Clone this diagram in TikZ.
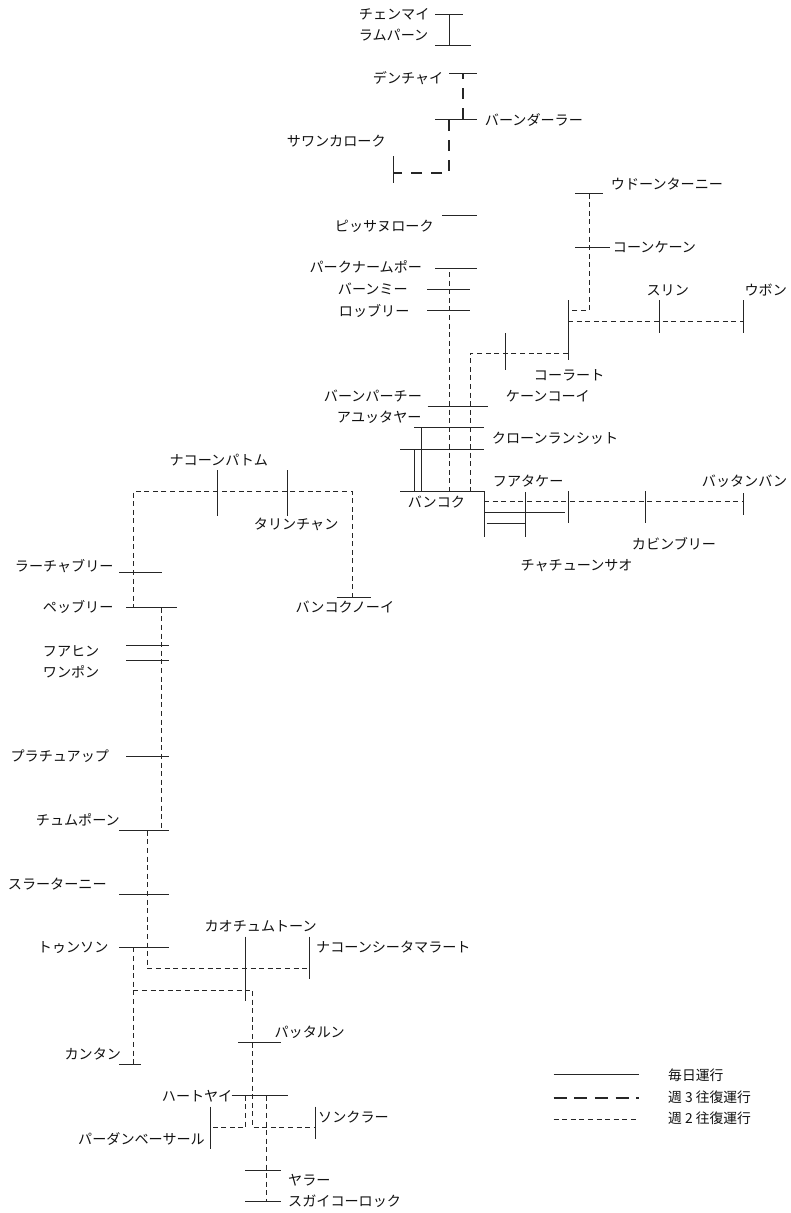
\documentclass[tikz,border=0pt]{standalone}
\usepackage{fontspec}
\setmainfont{Noto Sans CJK JP}
\definecolor{ink}{HTML}{262626}
\definecolor{txt}{HTML}{111111}
\tikzset{
  bar/.style={draw=ink,line width=1pt},
  daily/.style={draw=ink,line width=1pt},
  thrice/.style={draw=ink,line width=2.5pt,dash pattern=on 11pt off 9pt},
  thricelate/.style={thrice,dash phase=5pt},
  thriceleg/.style={draw=ink,line width=2.6pt,dash pattern=on 13pt off 7.7pt},
  twice/.style={draw=ink,line width=0.95pt,dash pattern=on 5pt off 3.6pt},
  lab/.style={anchor=base west,inner sep=0pt,text=txt,font=\fontsize{14.1}{15}\selectfont},
  leg/.style={anchor=base west,inner sep=0pt,text=txt,font=\fontsize{13.8}{15}\selectfont}
}
\newcommand{\stH}[4]{\coordinate (#1-a) at (#2,#4);\coordinate (#1-b) at (#3,#4);\draw[bar] (#1-a) -- (#1-b);}
\newcommand{\stV}[4]{\coordinate (#1-a) at (#2,#3);\coordinate (#1-b) at (#2,#4);\draw[bar] (#1-a) -- (#1-b);}
\newcommand{\lab}[4]{\node[lab] (#1) at (#2-1.3,#3+5) {#4};}
\begin{document}
\begin{tikzpicture}[x=1pt,y=-1pt]
\useasboundingbox (0,0) rectangle (790,1213);
% north
\stH{chm}{435}{463}{14}
\stH{lam}{435}{471}{45.5}
\stH{den}{449}{477}{73}
\stH{bdr}{435}{477}{119.5}
\stV{saw}{393}{156}{183}
\stH{phs}{442}{477}{215}
\stH{pak}{435}{477}{268}
\stH{bmi}{427}{470}{289.7}
\stH{lop}{427}{470}{310.7}
\stH{bpc}{427.7}{488}{406.3}
\stH{ayu}{414}{484}{427.7}
\stH{klr}{400}{484}{449}
\stH{bkk}{400}{484}{491.3}
% north east
\stH{udn}{575}{603}{193.6}
\stH{knk}{575}{610}{247}
\stV{krt}{568}{300}{360}
\stV{sur}{659}{300}{333}
\stV{ubn}{743}{300}{333}
\stV{kkh}{505}{333}{370}
% east
\stV{bkv}{484}{491.3}{536.7}
\stV{hua}{525.7}{492}{536.7}
\stV{ea1}{568}{491}{523}
\stV{kbn}{645}{491}{523}
\stV{btb}{743}{493}{515}
\stH{ccs}{484}{565}{512.7}
\stH{cc2}{486.7}{525.7}{523.3}
% south west branch
\stV{npt}{217.7}{470}{515.7}
\stV{tlc}{287.7}{470}{515.7}
\stH{bkn}{336.7}{370.7}{597.7}
\stH{rat}{119.3}{162}{572.7}
\stH{pet}{126.3}{177.3}{607.7}
\stH{hhn}{126.3}{169}{645}
\stH{wpn}{126.3}{169}{660.7}
\stH{pra}{126.3}{169}{756.3}
\stH{chp}{119.3}{169}{830.7}
\stH{sra}{119.3}{169}{894.3}
\stH{tho}{119.3}{169}{947.3}
\stV{kct}{245.7}{936.7}{1001}
\stV{nst}{309}{936.7}{979.3}
\stH{ktn}{119.3}{140.7}{1064}
\stH{ptl}{238.3}{281}{1042.7}
\stH{hty}{231.7}{288}{1095.7}
\stV{pdb}{210.7}{1106.7}{1149.3}
\stV{skh}{315.7}{1106.7}{1138.7}
\stH{yal}{245.3}{281}{1170}
\stH{sgk}{245.3}{281}{1201.7}
% solid connectors
\coordinate (cm1) at (449,14); \coordinate (cm2) at (449,45.5);
\draw[daily] (cm1) -- (cm2);
\coordinate (ay1) at (421,427.7); \coordinate (bk1) at (421,491.3);
\coordinate (kl1) at (414,449); \coordinate (bk2) at (414,491.3);
\draw[daily] (ay1) -- (bk1);
\draw[daily] (kl1) -- (bk2);
% weekly 3
\coordinate (d1) at (463,73); \coordinate (d2) at (463,119.5);
\coordinate (d3) at (449,120); \coordinate (d4) at (449,173); \coordinate (d5) at (393,173);
\draw[thricelate] (d1) -- (d2);
\draw[thrice] (d3) -- (d4) -- (d5);
% weekly 2
\coordinate (a1) at (449,272); \coordinate (a2) at (449,491.3);
\draw[twice] (a1) -- (a2);
\coordinate (b1) at (589.3,193.6); \coordinate (b2) at (589.3,310.7); \coordinate (b3) at (568,310.7);
\draw[twice] (b1) -- (b2) -- (b3);
\coordinate (c1) at (568,321.7); \coordinate (c2) at (743,321.7);
\draw[twice] (c1) -- (c2);
\coordinate (e1) at (568,353); \coordinate (e2) at (470,353); \coordinate (e3) at (470,491.3);
\draw[twice] (e1) -- (e2) -- (e3);
\coordinate (f1) at (484,501.7); \coordinate (f2) at (743,501.7);
\draw[twice] (f1) -- (f2);
\coordinate (g1) at (352,597.7); \coordinate (g2) at (352,491); \coordinate (g3) at (133.5,491); \coordinate (g4) at (133.5,607.7);
\draw[twice] (g1) -- (g2) -- (g3) -- (g4);
\coordinate (h1) at (161.7,607.7); \coordinate (h2) at (161.7,830.7);
\draw[twice] (h1) -- (h2);
\coordinate (i1) at (147.7,830.7); \coordinate (i2) at (147.7,968.7); \coordinate (i3) at (309,968.7);
\draw[twice] (i1) -- (i2) -- (i3);
\coordinate (j1) at (133.3,947.3); \coordinate (j2) at (133.3,1064);
\draw[twice] (j1) -- (j2);
\coordinate (k1) at (133.3,990); \coordinate (k2) at (252.7,990); \coordinate (k3) at (252.7,1127.7); \coordinate (k4) at (315.7,1127.7);
\draw[twice] (k1) -- (k2) -- (k3) -- (k4);
\coordinate (l1) at (245.7,1095.7); \coordinate (l2) at (245.7,1127.7); \coordinate (l3) at (210.7,1127.7);
\draw[twice] (l1) -- (l2) -- (l3);
\coordinate (m1) at (266.7,1095.7); \coordinate (m2) at (266.7,1201.7);
\draw[twice] (m1) -- (m2);
% labels
\lab{t1}{360}{14}{チェンマイ}
\lab{t2}{360}{35}{ラムパーン}
\lab{t3}{374}{78}{デンチャイ}
\lab{t4}{486}{120.7}{バーンダーラー}
\lab{t5}{288}{141.7}{サワンカローク}
\lab{t6}{336}{226.7}{ピッサヌローク}
\lab{t7}{310.7}{267.7}{パークナームポー}
\lab{t8}{339}{289}{バーンミー}
\lab{t9}{340}{311}{ロッブリー}
\lab{t10}{612}{184}{ウドーンターニー}
\lab{t11}{614}{247}{コーンケーン}
\lab{t12}{647.7}{290}{スリン}
\lab{t13}{745.7}{290}{ウボン}
\lab{t14}{535}{375}{コーラート}
\lab{t15}{507}{396.7}{ケーンコーイ}
\lab{t16}{325}{396.7}{バーンパーチー}
\lab{t17}{338}{417.3}{アユッタヤー}
\lab{t18}{493}{438.3}{クローンランシット}
\lab{t19}{494}{481}{フアタケー}
\lab{t20}{703}{481}{バッタンバン}
\lab{t21}{409}{502}{バンコク}
\lab{t22}{633}{544}{カビンブリー}
\lab{t23}{521.7}{565.7}{チャチューンサオ}
\lab{t24}{170.7}{460}{ナコーンパトム}
\lab{t25}{255}{524}{タリンチャン}
\lab{t26}{16}{566}{ラーチャブリー}
\lab{t27}{44}{607.7}{ペッブリー}
\lab{t28}{296.7}{607.7}{バンコクノーイ}
\lab{t29}{44}{651}{フアヒン}
\lab{t30}{44}{672}{ワンポン}
\lab{t31}{11.7}{756}{プラチュアップ}
\lab{t32}{37}{820.7}{チュムポーン}
\lab{t33}{9}{884.3}{スラーターニー}
\lab{t34}{39}{947.7}{トゥンソン}
\lab{t35}{205.7}{926.7}{カオチュムトーン}
\lab{t36}{317.3}{947.7}{ナコーンシータマラート}
\lab{t37}{275.7}{1032}{パッタルン}
\lab{t38}{65.7}{1054.3}{カンタン}
\lab{t39}{163}{1096}{ハートヤイ}
\lab{t40}{319.3}{1117.3}{ソンクラー}
\lab{t41}{79.3}{1139}{パーダンベーサール}
\lab{t42}{289.3}{1180.7}{ヤラー}
\lab{t43}{289.3}{1201.7}{スガイコーロック}
% legend
\coordinate (la1) at (553.5,1074.7); \coordinate (la2) at (638.5,1074.7);
\coordinate (lb1) at (553.5,1098); \coordinate (lb2) at (638.5,1098);
\coordinate (lc1) at (553.5,1119); \coordinate (lc2) at (638.5,1119);
\draw[daily] (la1) -- (la2);
\draw[thriceleg] (lb1) -- (lb2);
\draw[twice] (lc1) -- (lc2);
\node[leg] (ln1) at (668,1080) {毎日運行};
\node[leg] (ln2) at (668,1102) {週 3 往復運行};
\node[leg] (ln3) at (668,1123.5) {週 2 往復運行};
\end{tikzpicture}
\end{document}
